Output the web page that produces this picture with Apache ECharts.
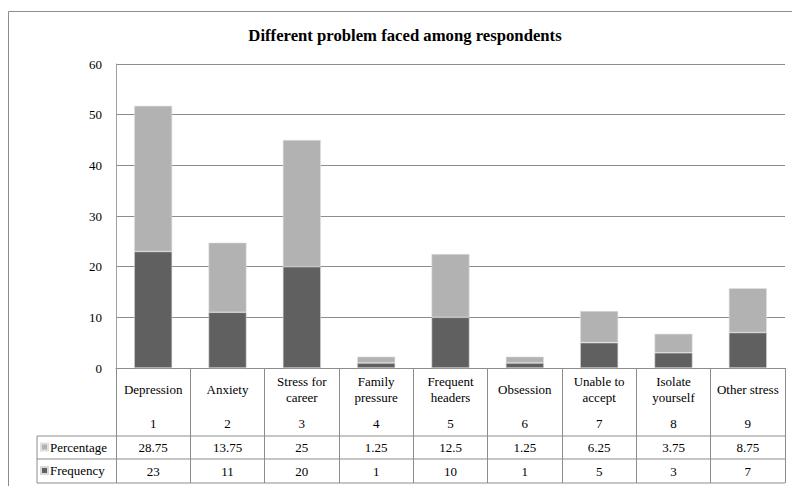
<!DOCTYPE html>
<html>
<head>
<meta charset="utf-8">
<script src="https://cdn.jsdelivr.net/npm/echarts@6/dist/echarts.min.js"></script>
<style>
html,body{margin:0;padding:0;background:#fff;}
#c{width:792px;height:486px;}
</style>
</head>
<body>
<div id="c"></div>
<script>
var categories = ['Depression','Anxiety','Stress for\ncareer','Family\npressure','Frequent\nheaders','Obsession','Unable to\naccept','Isolate\nyourself','Other stress'];
var indexLabels = ['1','2','3','4','5','6','7','8','9'];
var percentage = [28.75, 13.75, 25, 1.25, 12.5, 1.25, 6.25, 3.75, 8.75];
var frequency = [23, 11, 20, 1, 10, 1, 5, 3, 7];
var yTicks = {min: 0, max: 60, interval: 10};

var FONT = 'Liberation Serif';
var gridLeft = 116, gridTop = 64, gridRight = 7, gridBottomY = 368;
var W = 792, H = 486;
var tableLeft = 37, rowLine1 = 436, rowLine2 = 459, rowLine3 = 483;

var chart = echarts.init(document.getElementById('c'), null, {renderer: 'svg'});

function rowAxis(data, margin) {
  return {
    type: 'category', data: data, position: 'bottom', offset: 0, gridIndex: 0,
    axisLine: {show: false}, axisTick: {show: false}, splitLine: {show: false},
    axisLabel: {interval: 0, margin: margin, verticalAlign: 'middle', color: '#000',
      fontFamily: FONT, fontSize: 13}
  };
}

function legendRow(name, top) {
  return {
    data: [name], orient: 'horizontal', left: 40, top: top, padding: 0,
    itemWidth: 7, itemHeight: 7, icon: 'rect', selectedMode: false,
    textStyle: {fontFamily: FONT, fontSize: 13, color: '#000', padding: [0, 0, 0, -3]}
  };
}

var option = {
  animation: false,
  backgroundColor: '#fff',
  textStyle: {fontFamily: FONT},
  title: {
    text: 'Different problem faced among respondents',
    left: 405, top: 27, textAlign: 'center', padding: 0,
    textStyle: {fontFamily: FONT, fontWeight: 'bold', fontSize: 16.7, color: '#000'}
  },
  legend: [legendRow('Percentage', 440.5), legendRow('Frequency', 464)],
  grid: {left: gridLeft, top: gridTop, right: gridRight, bottom: H - gridBottomY},
  xAxis: [
    {
      type: 'category', data: categories, position: 'bottom',
      axisLine: {show: true, lineStyle: {color: '#8c8c8c', width: 1}},
      axisTick: {show: true, length: rowLine3 - gridBottomY, interval: 0, lineStyle: {color: '#8c8c8c'}},
      axisLabel: {interval: 0, margin: 21, verticalAlign: 'middle', color: '#000',
        fontFamily: FONT, fontSize: 13, lineHeight: 16},
      splitLine: {show: false}
    },
    rowAxis(indexLabels, 55),
    rowAxis(percentage.map(String), 79.5),
    rowAxis(frequency.map(String), 103)
  ],
  yAxis: {
    type: 'value', min: yTicks.min, max: yTicks.max, interval: yTicks.interval,
    axisLine: {show: true, lineStyle: {color: '#a0a0a0'}},
    axisTick: {show: false},
    axisLabel: {margin: 14, color: '#000', fontFamily: FONT, fontSize: 13},
    splitLine: {show: true, lineStyle: {color: '#8c8c8c', width: 1}}
  },
  series: [
    {name: 'Frequency', type: 'bar', stack: 'a', data: frequency, barWidth: 38,
      itemStyle: {color: '#606060', borderColor: '#d8d8d8', borderWidth: 0.6}},
    {name: 'Percentage', type: 'bar', stack: 'a', data: percentage, barWidth: 38,
      itemStyle: {color: '#b2b2b2', borderColor: '#e0e0e0', borderWidth: 0.6}}
  ],
  graphic: [
    {type: 'rect', silent: true, shape: {x: 8.5, y: 11.5, width: 800, height: 500},
      style: {fill: 'none', stroke: '#8c8c8c', lineWidth: 1}, z: -1},
    {type: 'line', silent: true, shape: {x1: tableLeft, y1: rowLine1, x2: W - gridRight, y2: rowLine1},
      style: {stroke: '#8c8c8c', lineWidth: 1}},
    {type: 'line', silent: true, shape: {x1: tableLeft, y1: rowLine2, x2: W - gridRight, y2: rowLine2},
      style: {stroke: '#8c8c8c', lineWidth: 1}},
    {type: 'line', silent: true, shape: {x1: tableLeft, y1: rowLine3, x2: W - gridRight, y2: rowLine3},
      style: {stroke: '#8c8c8c', lineWidth: 1}},
    {type: 'line', silent: true, shape: {x1: tableLeft, y1: rowLine1, x2: tableLeft, y2: rowLine3},
      style: {stroke: '#8c8c8c', lineWidth: 1}}
  ]
};
chart.setOption(option);
</script>
</body>
</html>
